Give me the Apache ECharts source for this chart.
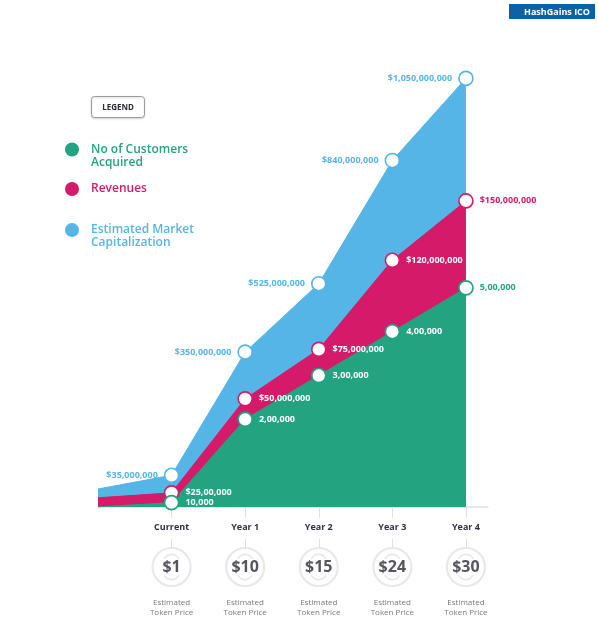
<!DOCTYPE html>
<html><head><meta charset="utf-8">
<script src="https://cdn.jsdelivr.net/npm/echarts@6/dist/echarts.min.js"></script>
<style>html,body{margin:0;padding:0;background:#fff}#c{width:598px;height:635px}</style>
</head><body><div id="c"></div>
<script>
// ---- data ----
const categories = ['Current', 'Year 1', 'Year 2', 'Year 3', 'Year 4'];
const customers = [10000, 200000, 300000, 400000, 500000];
const revenues = [2500000, 50000000, 75000000, 120000000, 150000000];
const marketCap = [35000000, 350000000, 525000000, 840000000, 1050000000];
const customerLabels = ['10,000', '2,00,000', '3,00,000', '4,00,000', '5,00,000'];
const revenueLabels = ['$25,00,000', '$50,000,000', '$75,000,000', '$120,000,000', '$150,000,000'];
const marketCapLabels = ['$35,000,000', '$350,000,000', '$525,000,000', '$840,000,000', '$1,050,000,000'];
const tokenPrices = [1, 10, 15, 24, 30];
const tokenCaption = 'Estimated Token Price';
const seriesNames = ['No of Customers Acquired', 'Revenues', 'Estimated Market Capitalization'];
const legendText = ['No of Customers\nAcquired', 'Revenues', 'Estimated Market\nCapitalization'];

// ---- styles ----
const GREEN = '#23a380', MAGENTA = '#d51a6a', BLUE = '#55b5e7';
const FONT = '"Open Sans", "Noto Sans", sans-serif';

const chart = echarts.init(document.getElementById('c'), null, {renderer: 'canvas'});

function areaSeries(name, values, labels, color, yIdx, pos, labelColorFn) {
  const data = [{value: [-1, 0], symbol: 'none', label: {show: false}}].concat(
    values.map((v, i) => ({
      value: [i, v],
      label: {formatter: labels[i], color: labelColorFn(i)}
    }))
  );
  return {
    type: 'line', name: name, xAxisIndex: 0, yAxisIndex: yIdx,
    data: data, symbol: 'circle', symbolSize: 14, showSymbol: true,
    itemStyle: {color: '#fff', borderColor: color, borderWidth: 1.6},
    lineStyle: {color: color, width: 1},
    areaStyle: {color: color, opacity: 1, origin: 'start'},
    label: {show: true, position: pos, distance: 6, fontSize: 9, fontWeight: 'bold', fontFamily: FONT},
    emphasis: {disabled: true},
    animation: false
  };
}

const last = categories.length - 1;
const arcPath = 'path://M-9.8,-8.2 L-5.4,-11.6 L0,-12.8 L5.4,-11.6 L9.8,-8.2 M-9.8,8.2 L-5.4,11.6 L0,12.8 L5.4,11.6 L9.8,8.2';
const series = [
  areaSeries(seriesNames[2], marketCap, marketCapLabels, BLUE, 0, 'left', () => BLUE),
  areaSeries(seriesNames[1], revenues, revenueLabels, MAGENTA, 1, 'right', i => i === last ? MAGENTA : '#fff'),
  areaSeries(seriesNames[0], customers, customerLabels, GREEN, 2, 'right', i => i === last ? GREEN : '#fff'),
  {
    type: 'scatter', name: 'tokenRing', xAxisIndex: 1, yAxisIndex: 3,
    data: tokenPrices.map((p, i) => [i, tokenCaption, p]),
    symbol: 'circle', symbolSize: 38,
    itemStyle: {color: '#fff', borderColor: '#e2e2e2', borderWidth: 2.2},
    label: {show: true, position: 'inside', formatter: p => '$' + p.value[2],
      fontSize: 16, fontWeight: 'bold', color: '#2b2b37', fontFamily: FONT},
    emphasis: {disabled: true}, animation: false, silent: true
  },
  {
    type: 'scatter', name: 'tokenArcs', xAxisIndex: 1, yAxisIndex: 3,
    data: tokenPrices.map((p, i) => [i, tokenCaption, p]),
    symbol: arcPath,
    symbolSize: [19.6, 25.6], symbolKeepAspect: true,
    itemStyle: {color: 'rgba(0,0,0,0)', borderColor: '#e2e2e2', borderWidth: 1.5},
    label: {show: true, position: 'bottom', distance: 17, formatter: () => 'Estimated\nToken Price',
      fontSize: 8, lineHeight: 10, color: '#555', fontFamily: FONT},
    emphasis: {disabled: true}, animation: false, silent: true, z: 3
  }
];

const legendColors = [GREEN, MAGENTA, BLUE];
const legendTops = [130, 182, 210.5];
const legends = seriesNames.map((n, i) => ({
  data: [{name: n, itemStyle: {color: legendColors[i], borderWidth: 0}, textStyle: {color: legendColors[i]}}],
  left: 65, top: legendTops[i], padding: 0, orient: 'vertical', icon: 'circle',
  itemWidth: 14, itemHeight: 14, itemGap: 4, selectedMode: false,
  // two-line names: a leading empty line keeps the first line level with the dot
  formatter: name => {
    const t = legendText[seriesNames.indexOf(name)];
    return t.indexOf('\n') >= 0 ? '\n' + t : t;
  },
  textStyle: {fontSize: 12, fontWeight: 600, fontFamily: FONT, lineHeight: 13, padding: [0, 0, 0, 7]}
}));

const option = {
  backgroundColor: '#fff',
  animation: false,
  legend: legends,
  grid: [
    {left: 98, top: 60, width: 390, height: 447},
    {left: 98, top: 548, width: 390, height: 38}
  ],
  xAxis: [
    {
      type: 'value', gridIndex: 0, min: -1, max: 4.3,
      axisLine: {show: true, onZero: false, lineStyle: {color: '#e0e0e0', width: 1.5}},
      axisTick: {show: true, length: 11, customValues: [0, 1, 2, 3, 4], lineStyle: {color: '#e0e0e0', width: 1}},
      axisLabel: {show: true, customValues: [0, 1, 2, 3, 4], margin: 16, formatter: v => categories[v] || '',
        fontSize: 9, fontWeight: 'bold', color: '#2d3142', fontFamily: FONT},
      splitLine: {show: false}
    },
    {
      type: 'value', gridIndex: 1, min: -1, max: 4.3, position: 'top',
      axisLine: {show: false},
      axisTick: {show: true, length: 9, customValues: [0, 1, 2, 3, 4], lineStyle: {color: '#e0e0e0', width: 1}},
      axisLabel: {show: false}, splitLine: {show: false}
    }
  ],
  yAxis: [
    {type: 'value', gridIndex: 0, min: -46000000, max: 1097000000, show: false, splitLine: {show: false}},
    {type: 'value', gridIndex: 0, min: -4650000, max: 221200000, show: false, splitLine: {show: false}},
    {type: 'value', gridIndex: 0, min: 0, max: 1020000, show: false, splitLine: {show: false}},
    {type: 'category', gridIndex: 1, data: [tokenCaption], show: false}
  ],
  graphic: [
    {type: 'rect', shape: {x: 509, y: 4, width: 86, height: 15}, style: {fill: '#0b62a6'}, silent: true},
    {type: 'text', x: 557, y: 12, style: {text: 'HashGains ICO', fill: '#fff', font: 'bold 9px ' + FONT, align: 'center', verticalAlign: 'middle'}, silent: true},
    {type: 'rect', shape: {x: 91.5, y: 96.5, width: 53, height: 21, r: 3},
      style: {fill: '#fff', stroke: '#9c9c9c', lineWidth: 1, shadowBlur: 2, shadowColor: 'rgba(0,0,0,0.15)', shadowOffsetY: 1}, silent: true},
    {type: 'text', x: 118, y: 107.5, style: {text: 'LEGEND', fill: '#2b2b37', font: 'bold 8px ' + FONT, align: 'center', verticalAlign: 'middle'}, silent: true}
  ],
  series: series
};
chart.setOption(option);
</script>
</body></html>
